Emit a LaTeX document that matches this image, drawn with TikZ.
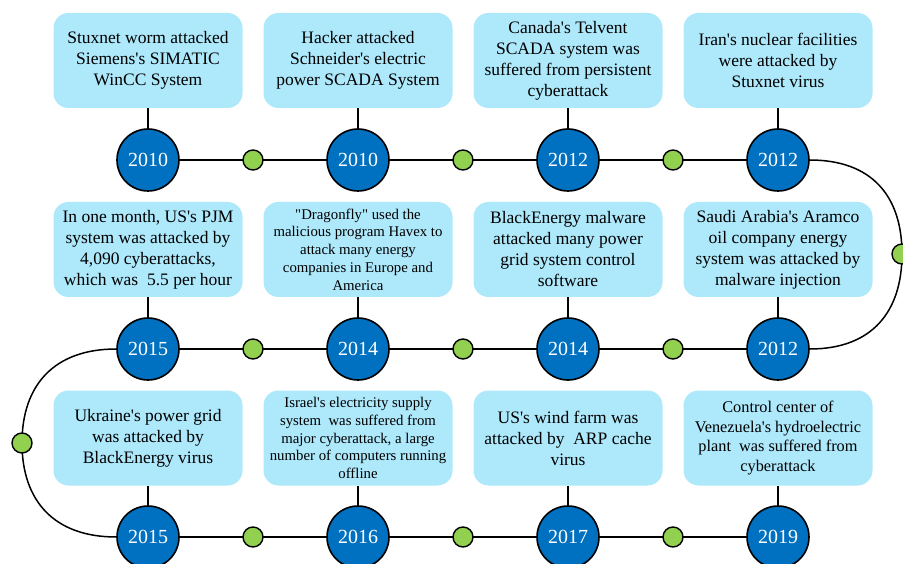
\documentclass[tikz,border=0pt]{standalone}
\usepackage{fontspec}
\setmainfont{Liberation Serif}[Ligatures=TeXOff]
\usetikzlibrary{backgrounds}
\definecolor{boxfill}{HTML}{ADE8FB}
\definecolor{yearblue}{HTML}{0070C0}
\definecolor{dotgreen}{HTML}{92D050}
\begin{document}
\begin{tikzpicture}[x=1pt,y=-1pt,
  event/.style={fill=boxfill, rounded corners=15pt, minimum width=189pt, minimum height=95pt, align=center, inner sep=0pt, font=\rmfamily\fontsize{17.5}{21}\selectfont},
  smalltext/.style={font=\rmfamily\fontsize{14.8}{17.8}\selectfont},
  midtext/.style={font=\rmfamily\fontsize{16.3}{19.5}\selectfont},
  year/.style={circle, draw=black, line width=1.6pt, fill=yearblue, minimum size=62pt, inner sep=0pt, text=white, font=\rmfamily\fontsize{20}{24}\selectfont},
  dot/.style={circle, draw=black, line width=1.4pt, fill=dotgreen, minimum size=20pt, inner sep=0pt},
  link/.style={line width=1.5pt}]
\useasboundingbox (0,0) rectangle (903,564);

% event boxes
\node[event] (b1) at (148,60.5) {Stuxnet worm attacked\\Siemens's SIMATIC\\WinCC System};
\node[event] (b2) at (358,60.5) {Hacker attacked\\Schneider's electric\\power SCADA System};
\node[event] (b3) at (568,60.5) {Canada's Telvent\\SCADA system was\\suffered from persistent\\cyberattack};
\node[event] (b4) at (778,60.5) {Iran's nuclear facilities\\were attacked by\\Stuxnet virus};
\node[event] (b8) at (148,249.5) {In one month, US's PJM\\system was attacked by\\4,090 cyberattacks,\\which was\ \ 5.5 per hour};
\node[event, smalltext] (b7) at (358,249.5) {"Dragonfly" used the\\malicious program Havex to\\attack many energy\\companies in Europe and\\America};
\node[event] (b6) at (568,249.5) {BlackEnergy malware\\attacked many power\\grid system control\\software};
\node[event] (b5) at (778,249.5) {Saudi Arabia's Aramco\\oil company energy\\system was attacked by\\malware injection};
\node[event] (b9) at (148,438) {Ukraine's power grid\\was attacked by\\BlackEnergy virus};
\node[event, smalltext] (b10) at (358,438) {Israel's electricity supply\\system\ \ was suffered from\\major cyberattack, a large\\number of computers running\\offline};
\node[event] (b11) at (568,438) {US's wind farm was\\attacked by\ \ ARP cache\\virus};
\node[event, midtext] (b12) at (778,438) {Control center of\\Venezuela's hydroelectric\\plant\ \ was suffered from\\cyberattack};

% year circles
\node[year] (c1) at (148,160) {2010};
\node[year] (c2) at (358,160) {2010};
\node[year] (c3) at (568,160) {2012};
\node[year] (c4) at (778,160) {2012};
\node[year] (c5) at (778,349) {2012};
\node[year] (c6) at (568,349) {2014};
\node[year] (c7) at (358,349) {2014};
\node[year] (c8) at (148,349) {2015};
\node[year] (c9) at (148,537) {2015};
\node[year] (c10) at (358,537) {2016};
\node[year] (c11) at (568,537) {2017};
\node[year] (c12) at (778,537) {2019};

% green dots
\node[dot] (d1) at (253,160) {};
\node[dot] (d2) at (463,160) {};
\node[dot] (d3) at (673,160) {};
\node[dot] (dr) at (902,254) {};
\node[dot] (d4) at (673,349) {};
\node[dot] (d5) at (463,349) {};
\node[dot] (d6) at (253,349) {};
\node[dot] (dl) at (22,443) {};
\node[dot] (d7) at (253,537) {};
\node[dot] (d8) at (463,537) {};
\node[dot] (d9) at (673,537) {};

% connectors (drawn behind)
\begin{scope}[on background layer={link}]
  \foreach \i in {1,...,12} \draw[link] (b\i.south) -- (c\i.north);
  \draw[link] (c1.center) -- (d1.center) -- (c2.center) -- (d2.center) -- (c3.center) -- (d3.center) -- (c4.center);
  \draw[link] (c5.center) -- (d4.center) -- (c6.center) -- (d5.center) -- (c7.center) -- (d6.center) -- (c8.center);
  \draw[link] (c9.center) -- (d7.center) -- (c10.center) -- (d8.center) -- (c11.center) -- (d9.center) -- (c12.center);
  \draw[link] (c4.east) .. controls +(62,0) and +(0,-58) .. (dr.center)
                  .. controls +(0,58) and +(62,0) .. (c5.east);
  \draw[link] (c8.west) .. controls +(-62,0) and +(0,-58) .. (dl.center)
                  .. controls +(0,58) and +(-62,0) .. (c9.west);
\end{scope}
\end{tikzpicture}
\end{document}
